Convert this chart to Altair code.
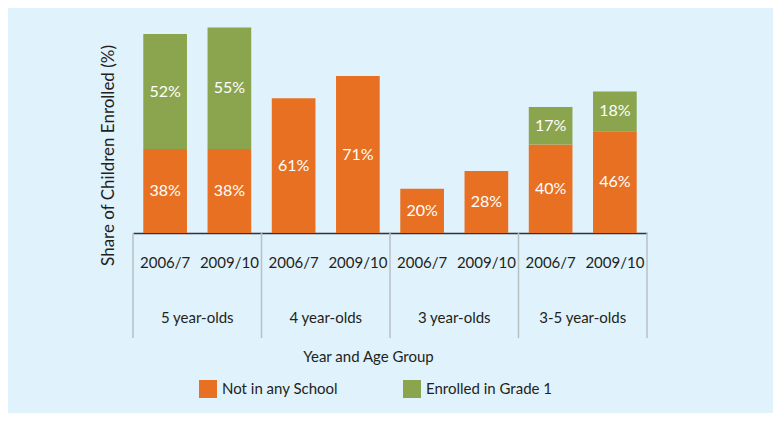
import altair as alt
import pandas as pd

# ---- data ----
age_groups = ["5 year-olds", "5 year-olds", "4 year-olds", "4 year-olds",
              "3 year-olds", "3 year-olds", "3-5 year-olds", "3-5 year-olds"]
years = ["2006/7", "2009/10", "2006/7", "2009/10",
         "2006/7", "2009/10", "2006/7", "2009/10"]
not_in_school = [38, 38, 61, 71, 20, 28, 40, 46]
enrolled_grade1 = [52, 55, None, None, None, None, 17, 18]
series_names = ["Not in any School", "Enrolled in Grade 1"]
series_colors = ["#E87022", "#8BA54E"]
group_names = ["5 year-olds", "4 year-olds", "3 year-olds", "3-5 year-olds"]
group_centers = [0.5, 1.5, 2.5, 3.5]
group_edges = [0, 1, 2, 3, 4]

rows = []
for g, y, a, b in zip(age_groups, years, not_in_school, enrolled_grade1):
    key = f"{g}|{y}"
    rows.append({"key": key, "series": series_names[0], "ord": 0, "value": a})
    if b is not None:
        rows.append({"key": key, "series": series_names[1], "ord": 1, "value": b})
df = pd.DataFrame(rows)
keys = [f"{g}|{y}" for g, y in zip(age_groups, years)]

groups_df = pd.DataFrame({"name": group_names, "pos": group_centers})
edges_df = pd.DataFrame({"pos": group_edges})

FONT = "Lato"
W, H = 514, 221
TXT = "#231F20"

band_scale = alt.Scale(domain=keys, paddingInner=0.32, paddingOuter=0.16)

x_band = alt.X(
    "key:N", sort=keys, scale=band_scale,
    axis=alt.Axis(
        labelExpr="split(datum.label, '|')[1]", labelAngle=0,
        labelFontSize=15, labelFont=FONT, labelColor=TXT, labelPadding=22,
        ticks=False, domainColor="#333333", domainWidth=1.5,
        title="Year and Age Group", titleFont=FONT, titleFontSize=15,
        titleFontWeight="normal", titleColor=TXT,
        titleX=235, titleY=123, titleBaseline="middle",
    ),
)

y_scale = alt.Scale(domain=[0, 100])
y_axis = alt.Axis(
    labels=False, ticks=False, domain=False, grid=False,
    title="Share of Children Enrolled (%)", titleFont=FONT, titleFontSize=17,
    titleFontWeight="normal", titleColor=TXT, titleX=-25, titleY=143,
    titleAlign="center", titleBaseline="middle",
)

base = alt.Chart(df).transform_stack(
    stack="value", groupby=["key"], as_=["y0", "y1"],
    sort=[alt.SortField("ord", order="ascending")],
).transform_calculate(mid="(datum.y0 + datum.y1) / 2")

bars = base.mark_bar().encode(
    x=x_band,
    y=alt.Y("y0:Q", scale=y_scale, axis=y_axis),
    y2="y1:Q",
    color=alt.Color(
        "series:N",
        scale=alt.Scale(domain=series_names, range=series_colors),
        legend=alt.Legend(
            title=None, orient="none", direction="horizontal",
            legendX=66, legendY=368, symbolType="square", symbolSize=324,
            symbolStrokeWidth=0, labelFont=FONT, labelFontSize=15,
            labelColor=TXT, labelOffset=5, columnPadding=64, padding=0,
            labelLimit=300,
        ),
    ),
)

labels = base.mark_text(color="white", font=FONT, fontSize=16).encode(
    x=alt.X("key:N", sort=keys, scale=band_scale, axis=None),
    y=alt.Y("mid:Q", scale=y_scale, axis=y_axis),
    text=alt.Text("label:N"),
).transform_calculate(label="datum.value + '%'")

x_q = alt.X("pos:Q", scale=alt.Scale(domain=[0, 4], nice=False, zero=False), axis=None)

separators = alt.Chart(edges_df).mark_rule(color="#B8C0C6", strokeWidth=1.5).encode(
    x=x_q, y=alt.value(H), y2=alt.value(H + 105),
)

group_text = alt.Chart(groups_df).mark_text(
    font=FONT, fontSize=15, color=TXT, baseline="middle"
).encode(
    x=x_q, y=alt.value(H + 85), text="name:N",
)

chart = alt.layer(bars, labels, separators, group_text).resolve_scale(
    x="independent"
).properties(
    width=W, height=H,
    background="#E0F2FC",
    padding={"left": 125, "top": 4, "right": 126, "bottom": 180},
    autosize=alt.AutoSizeParams(type="none"),
).configure_view(stroke=None)

chart.save("out.html", embed_options={"renderer": "svg", "actions": False})
